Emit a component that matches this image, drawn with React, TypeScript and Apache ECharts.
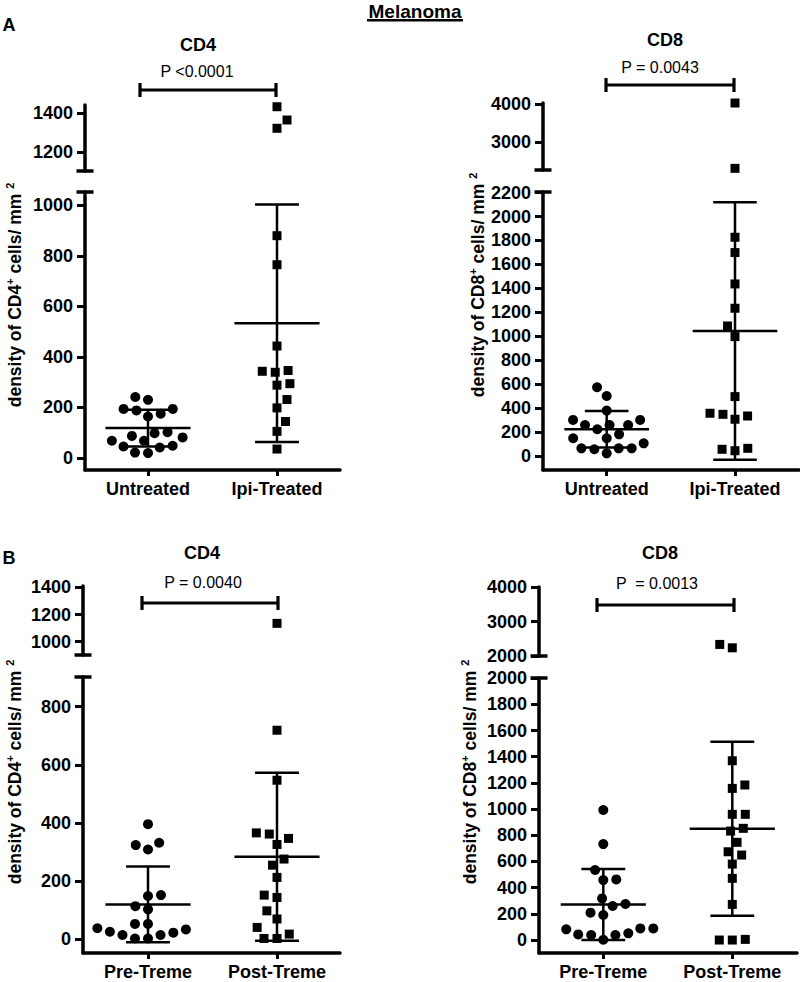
import React, { useEffect, useRef } from 'react';
import * as echarts from 'echarts';

// ---------------- data ----------------
const figureTitle = 'Melanoma';
const panelLetters = ['A', 'B'];
const panelTitles = ['CD4', 'CD8', 'CD4', 'CD8'];
const pValues = ['P <0.0001', 'P = 0.0043', 'P = 0.0040', 'P  = 0.0013'];

const categoriesA = ['Untreated', 'Ipi-Treated'];
const categoriesB = ['Pre-Treme', 'Post-Treme'];

// Panel A – CD4
const aCd4Untreated = [241, 230, 194, 188, 175, 194, 164, 102, 98, 68, 87, 81, 68, 48, 41, 45, 19, 21];
const aCd4IpiTreated = [1434, 1365, 1322, 880, 765, 443, 343, 339, 346, 294, 288, 231, 198, 144, 105, 35];
const aCd4Mean = [118, 533];
const aCd4Sd = [73, 470];
const aCd4UpperTicks = [1200, 1400];
const aCd4LowerTicks = [0, 200, 400, 600, 800, 1000];

// Panel A – CD8
const aCd8Untreated = [574, 501, 379, 301, 259, 223, 259, 259, 301, 181, 148, 148, 64, 56, 64, 64, 106, 22];
const aCd8IpiTreated = [4030, 2294, 1827, 1699, 1437, 1234, 1086, 997, 496, 357, 334, 307, 348, 64, 44, 56];
const aCd8Mean = [223, 1044];
const aCd8Sd = [153, 1075];
const aCd8UpperTicks = [3000, 4000];
const aCd8LowerTicks = [0, 200, 400, 600, 800, 1000, 1200, 1400, 1600, 1800, 2000, 2200];

// Panel B – CD4
const bCd4Pre = [396, 324, 332, 309, 152, 149, 103, 114, 53, 53, 34, 38, 23, 26, 15, 15, 3, 3];
const bCd4Post = [1135, 719, 547, 362, 347, 366, 326, 276, 255, 213, 144, 152, 98, 70, 41, 18, 3, 3];
const bCd4Mean = [120, 284];
const bCd4Sd = [130, 289];
const bCd4UpperTicks = [1000, 1200, 1400];
const bCd4LowerTicks = [0, 200, 400, 600, 800];

// Panel B – CD8
const bCd8Pre = [993, 733, 535, 463, 458, 318, 275, 260, 209, 191, 89, 89, 51, 82, 38, 38, 43, 2];
const bCd8Post = [2333, 2234, 1369, 1158, 1184, 960, 960, 832, 853, 746, 674, 649, 580, 471, 272, 5, 0, 0];
const bCd8Mean = [272, 850];
const bCd8Sd = [271, 664];
const bCd8UpperTicks = [2000, 3000, 4000];
const bCd8LowerTicks = [0, 200, 400, 600, 800, 1000, 1200, 1400, 1600, 1800, 2000];

// ---------------- layout ----------------
const FONT = "'Liberation Sans', Arial, Helvetica, sans-serif";

const panels = [
  {
    cats: categoriesA, groups: [aCd4Untreated, aCd4IpiTreated], mean: aCd4Mean, sd: aCd4Sd,
    upTicks: aCd4UpperTicks, loTicks: aCd4LowerTicks, marker: 'CD4',
    L: { axisX: 85, right: 340, c0: 148, c1: 277, upTop: 105, upBottom: 171, upMin: 1100, upMax: 1443,
      loTop: 192, loBottom: 470, loMin: -48, loMax: 1053, titleX: 198, titleY: 45, pX: 197, pY: 71,
      bx0: 140, bx1: 276, by: 90, nameX: 15, nameY: 295 },
  },
  {
    cats: categoriesA, groups: [aCd8Untreated, aCd8IpiTreated], mean: aCd8Mean, sd: aCd8Sd,
    upTicks: aCd8UpperTicks, loTicks: aCd8LowerTicks, marker: 'CD8',
    L: { axisX: 543, right: 799, c0: 606.7, c1: 735, upTop: 103, upBottom: 170, upMin: 2250, upMax: 4030,
      loTop: 192, loBottom: 470, loMin: -117, loMax: 2205, titleX: 665, titleY: 40, pX: 660, pY: 67,
      bx0: 606, bx1: 734, by: 85, nameX: 478, nameY: 285 },
  },
  {
    cats: categoriesB, groups: [bCd4Pre, bCd4Post], mean: bCd4Mean, sd: bCd4Sd,
    upTicks: bCd4UpperTicks, loTicks: bCd4LowerTicks, marker: 'CD4',
    L: { axisX: 83, right: 340, c0: 148, c1: 277, upTop: 586, upBottom: 655, upMin: 902, upMax: 1410,
      loTop: 677, loBottom: 953, loMin: -47, loMax: 902, titleX: 202, titleY: 553, pX: 203, pY: 582,
      bx0: 142, bx1: 278, by: 603, nameX: 15, nameY: 772 },
  },
  {
    cats: categoriesB, groups: [bCd8Pre, bCd8Post], mean: bCd8Mean, sd: bCd8Sd,
    upTicks: bCd8UpperTicks, loTicks: bCd8LowerTicks, marker: 'CD8',
    L: { axisX: 539, right: 797, c0: 603.3, c1: 732.3, upTop: 587, upBottom: 656, upMin: 1995, upMax: 4010,
      loTop: 678, loBottom: 953, loMin: -99, loMax: 2001, titleX: 660, titleY: 553, pX: 657, pY: 583,
      bx0: 597, bx1: 734, by: 605, nameX: 470, nameY: 772 },
  },
];

// beeswarm layout (bottom-up): returns x offsets (in category units) so points don't overlap
function swarmOffsets(values: number[], L: any): number[] {
  const toPx = (v: number) =>
    v >= L.upMin
      ? L.upTop + ((L.upMax - v) / (L.upMax - L.upMin)) * (L.upBottom - L.upTop)
      : L.loTop + ((L.loMax - v) / (L.loMax - L.loMin)) * (L.loBottom - L.loTop);
  const ys = values.map(toPx);
  const d = 13;
  const order = ys.map((_, i) => i).sort((a, b) => ys[b] - ys[a]);
  const placed: { x: number; y: number }[] = [];
  const out: number[] = new Array(values.length).fill(0);
  order.forEach((i, k) => {
    const y = ys[i];
    const cands = [0];
    placed.forEach((p) => {
      const dy = Math.abs(p.y - y);
      if (dy < d) {
        const dx = Math.sqrt(d * d - dy * dy);
        cands.push(p.x + dx, p.x - dx);
      }
    });
    const bias = k % 2 === 0 ? 1 : -1;
    cands.sort((a, b) => Math.abs(a) + (a * bias < 0 ? 1e-6 : 0) - (Math.abs(b) + (b * bias < 0 ? 1e-6 : 0)));
    let best = 0;
    for (const c of cands) {
      if (placed.every((p) => (p.x - c) ** 2 + (p.y - y) ** 2 >= d * d - 0.01)) {
        best = c;
        break;
      }
    }
    placed.push({ x: best, y });
    out[i] = best;
  });
  const unit = L.c1 - L.c0;
  return out.map((o) => o / unit);
}

function buildOption() {
  const grid: any[] = [];
  const xAxis: any[] = [];
  const yAxis: any[] = [];
  const series: any[] = [];
  const elements: any[] = [];

  const axisLabelStyle = { fontFamily: FONT, fontSize: 18, fontWeight: 'bold', color: '#000' };
  const plain = (v: number) => String(v);

  panels.forEach((P, k) => {
    const L = P.L;
    const unit = L.c1 - L.c0;
    const xMin = (L.axisX - L.c0) / unit;
    const xMax = (L.right - L.c0) / unit;
    const up = 2 * k;
    const lo = 2 * k + 1;

    grid.push({ left: L.axisX, top: L.upTop, width: L.right - L.axisX, height: L.upBottom - L.upTop, containLabel: false, outerBoundsMode: 'none' });
    grid.push({ left: L.axisX, top: L.loTop, width: L.right - L.axisX, height: L.loBottom - L.loTop, containLabel: false, outerBoundsMode: 'none' });

    xAxis.push({ type: 'value', gridIndex: up, min: xMin, max: xMax, show: false });
    xAxis.push({
      type: 'value', gridIndex: lo, min: xMin, max: xMax,
      axisLine: { show: true, onZero: false, lineStyle: { color: '#000', width: 3.5 } },
      axisTick: { show: true, customValues: [0, 1], length: 6, inside: false, lineStyle: { color: '#000', width: 3 } },
      axisLabel: { ...axisLabelStyle, customValues: [0, 1], margin: 10, formatter: (v: number) => P.cats[Math.round(v)] },
      splitLine: { show: false },
    });

    yAxis.push({
      type: 'value', gridIndex: up, min: L.upMin, max: L.upMax,
      axisLine: { show: true, onZero: false, lineStyle: { color: '#000', width: 3.5 }, symbol: ['rect', 'none'], symbolSize: [17, 3.5] },
      axisTick: { show: true, customValues: P.upTicks, length: 8, lineStyle: { color: '#000', width: 3 } },
      axisLabel: { ...axisLabelStyle, customValues: P.upTicks, margin: 12, formatter: plain },
      splitLine: { show: false },
    });
    yAxis.push({
      type: 'value', gridIndex: lo, min: L.loMin, max: L.loMax,
      axisLine: { show: true, onZero: false, lineStyle: { color: '#000', width: 3.5 }, symbol: ['none', 'rect'], symbolSize: [17, 3.5] },
      axisTick: { show: true, customValues: P.loTicks, length: 8, lineStyle: { color: '#000', width: 3 } },
      axisLabel: { ...axisLabelStyle, customValues: P.loTicks, margin: 12, formatter: plain },
      splitLine: { show: false },
    });

    P.groups.forEach((vals, g) => {
      const offs = swarmOffsets(vals, L);
      const upperPts: number[][] = [];
      const lowerPts: number[][] = [];
      vals.forEach((v, i) => {
        (v >= L.upMin ? upperPts : lowerPts).push([g + offs[i], v]);
      });
      const common = {
        type: 'scatter', symbol: g === 0 ? 'circle' : 'rect', symbolSize: g === 0 ? 10 : 9,
        itemStyle: { color: '#000', opacity: 1 }, clip: false, silent: true, z: 3,
      };
      series.push({ ...common, xAxisIndex: up, yAxisIndex: up, data: upperPts });
      series.push({ ...common, xAxisIndex: lo, yAxisIndex: lo, data: lowerPts });
    });

    series.push({
      type: 'custom', xAxisIndex: lo, yAxisIndex: lo, clip: false, silent: true, z: 4,
      data: P.mean.map((m, i) => [i, m, P.sd[i]]),
      encode: { x: 0, y: 1 },
      renderItem: (params: any, api: any) => {
        const x = api.value(0) as number;
        const m = api.value(1) as number;
        const s = api.value(2) as number;
        const ln = (a: number[], b: number[]) => ({
          type: 'line', shape: { x1: a[0], y1: a[1], x2: b[0], y2: b[1] },
          style: { stroke: '#000', lineWidth: 2.5 },
        });
        return {
          type: 'group',
          children: [
            ln(api.coord([x, m - s]), api.coord([x, m + s])),
            ln(api.coord([x - 0.33, m]), api.coord([x + 0.33, m])),
            ln(api.coord([x - 0.17, m + s]), api.coord([x + 0.17, m + s])),
            ln(api.coord([x - 0.17, m - s]), api.coord([x + 0.17, m - s])),
          ],
        };
      },
    });

    // titles, p-values, significance brackets, axis names
    elements.push({
      type: 'text', x: L.titleX, y: L.titleY,
      style: { text: panelTitles[k], font: `bold 18px ${FONT}`, fill: '#000', align: 'center', verticalAlign: 'middle' },
    });
    elements.push({
      type: 'text', x: L.pX, y: L.pY,
      style: { text: pValues[k], font: `16px ${FONT}`, fill: '#000', align: 'center', verticalAlign: 'middle' },
    });
    elements.push({ type: 'line', shape: { x1: L.bx0, y1: L.by, x2: L.bx1, y2: L.by }, style: { stroke: '#000', lineWidth: 3.2 } });
    elements.push({ type: 'line', shape: { x1: L.bx0, y1: L.by - 7, x2: L.bx0, y2: L.by + 7 }, style: { stroke: '#000', lineWidth: 3.2 } });
    elements.push({ type: 'line', shape: { x1: L.bx1, y1: L.by - 7, x2: L.bx1, y2: L.by + 7 }, style: { stroke: '#000', lineWidth: 3.2 } });
    elements.push({
      type: 'text', x: L.nameX, y: L.nameY, rotation: Math.PI / 2,
      style: {
        text: `{a|density of ${P.marker}}{s|+}{a| cells/ mm }{s|2}`,
        align: 'center', verticalAlign: 'middle', fill: '#000',
        rich: {
          a: { font: `bold 17.5px ${FONT}`, fill: '#000', lineHeight: 22 },
          s: { font: `bold 11px ${FONT}`, fill: '#000', verticalAlign: 'top', lineHeight: 12 },
        },
      },
    });
  });

  elements.push({
    type: 'text', x: 415, y: 11,
    style: { text: figureTitle, font: `bold 19px ${FONT}`, fill: '#000', align: 'center', verticalAlign: 'middle' },
  });
  elements.push({ type: 'rect', shape: { x: 367, y: 19, width: 96, height: 2.5 }, style: { fill: '#000' } });
  elements.push({
    type: 'text', x: 9, y: 25,
    style: { text: panelLetters[0], font: `bold 18px ${FONT}`, fill: '#000', align: 'center', verticalAlign: 'middle' },
  });
  elements.push({
    type: 'text', x: 9, y: 558,
    style: { text: panelLetters[1], font: `bold 18px ${FONT}`, fill: '#000', align: 'center', verticalAlign: 'middle' },
  });

  return {
    animation: false,
    backgroundColor: '#fff',
    grid, xAxis, yAxis, series,
    graphic: { elements },
  };
}

export default function App() {
  const ref = useRef<HTMLDivElement>(null);
  useEffect(() => {
    if (!ref.current) return;
    const chart = echarts.init(ref.current, null, { renderer: 'svg' });
    chart.setOption(buildOption() as any);
    return () => chart.dispose();
  }, []);
  return (
    <div
      ref={ref}
      style={{ position: 'absolute', left: 0, top: 0, width: 800, height: 982, background: '#fff' }}
    />
  );
}
